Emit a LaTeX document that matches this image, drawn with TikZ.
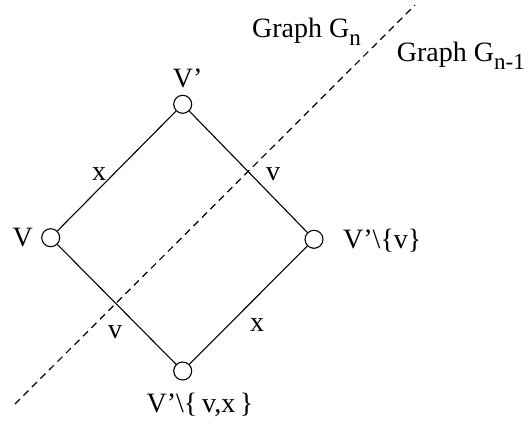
\documentclass[tikz,border=0pt]{standalone}
\usepackage{fontspec}
\setmainfont{Liberation Serif}
\newcommand{\lowsub}[1]{\raisebox{-0.28em}{\fontsize{23}{25}\selectfont #1}}
\begin{document}
\begin{tikzpicture}[x=1pt,y=-1pt,
  vert/.style={circle,draw,line width=1.1pt,minimum size=18pt,inner sep=0pt},
  edge/.style={line width=1.1pt},
  cut/.style={line width=1.2pt,dash pattern=on 7pt off 5pt},
  lbl/.style={anchor=base,inner sep=0pt,font=\fontsize{28}{31}\selectfont}]
\path[use as bounding box] (0,0) rectangle (526,425);
\node[vert] (V) at (50.7,237.7) {};
\node[vert] (Vp) at (182.7,104.3) {};
\node[vert] (Vv) at (314,239.3) {};
\node[vert] (Vvx) at (182.7,371) {};
\coordinate (da) at (15,404);
\coordinate (db) at (415,5);
\draw[cut] (da) -- (db);
\draw[edge] (V) -- (Vp);
\draw[edge] (Vp) -- (Vv);
\draw[edge] (V) -- (Vvx);
\draw[edge] (Vvx) -- (Vv);
\node[lbl] (tV) at (22.7,246.7) {V};
\node[lbl] (tVp) at (187.7,88) {V’};
\node[lbl,anchor=base west] (tVv) at (343,248) {V’\textbackslash\{v\}};
\node[lbl] (tVvx) at (200,412) {V’\textbackslash\{\,v,x\,\}};
\node[lbl] (x1) at (99,180) {x};
\node[lbl] (v1) at (273,180) {v};
\node[lbl] (v2) at (115,338) {v};
\node[lbl] (x2) at (257,331) {x};
\node[lbl,anchor=base west] (gn) at (252,37.7) {Graph G\lowsub{n}};
\node[lbl,anchor=base east] (gn1) at (525,62) {Graph G\lowsub{n-1}};
\end{tikzpicture}
\end{document}
